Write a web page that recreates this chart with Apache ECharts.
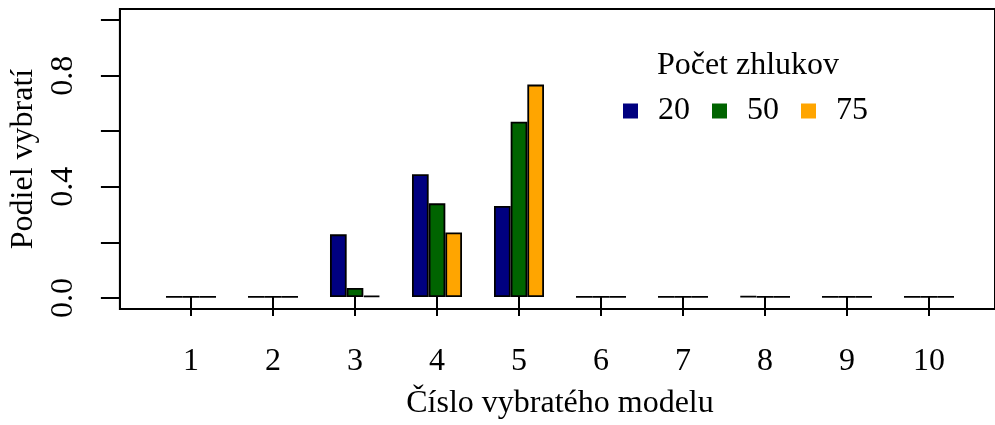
<!DOCTYPE html>
<html>
<head>
<meta charset="utf-8">
<script src="https://cdn.jsdelivr.net/npm/echarts@6/dist/echarts.min.js"></script>
<style>html,body{margin:0;padding:0;background:#fff;}#c{width:995px;height:425px;}</style>
</head>
<body>
<div id="c"></div>
<script>
var categories = ['1','2','3','4','5','6','7','8','9','10'];
var seriesNames = ['20','50','75'];
var values20 = [0, 0, 0.226, 0.443, 0.3285, 0, 0, 0.002, 0, 0];
var values50 = [0, 0, 0.0325, 0.338, 0.633, 0, 0, 0, 0, 0];
var values75 = [0, 0, 0.004, 0.2325, 0.767, 0, 0, 0, 0, 0];
var yTicks = [0, 0.2, 0.4, 0.6, 0.8, 1.0];
var yLabels = [0, 0.4, 0.8];
var colors = ['#000080', '#006400', '#FFA500'];

var FONT = '"Liberation Serif", "Times New Roman", serif';
var chart = echarts.init(document.getElementById('c'), null, {renderer: 'canvas'});
var allValues = [values20, values50, values75];
var series = seriesNames.map(function (n, i) {
  return {
    name: n, type: 'bar', xAxisIndex: 1, yAxisIndex: 1,
    data: allValues[i], barWidth: 16.67, barGap: '0%',
    itemStyle: {color: colors[i], borderColor: '#000', borderWidth: 1.8},
    emphasis: {disabled: true}, animation: false
  };
});
chart.setOption({
  animation: false,
  textStyle: {fontFamily: FONT, color: '#000'},
  title: {
    text: 'Počet zhlukov', left: 743, top: 45, textAlign: 'center',
    textStyle: {fontFamily: FONT, fontSize: 32, fontWeight: 'normal', color: '#000'}
  },
  legend: {
    data: seriesNames, left: 623, top: 95, padding: 0, icon: 'rect', itemWidth: 15, itemHeight: 15,
    itemGap: 22, selectedMode: false,
    itemStyle: {borderWidth: 0},
    textStyle: {fontFamily: FONT, fontSize: 32, color: '#000', padding: [0, 0, 0, 15]}
  },
  grid: [
    {left: 117, top: 9, right: -30, bottom: 116, show: true, borderColor: '#000', borderWidth: 2, backgroundColor: 'transparent'},
    {left: 150, top: 9, width: 820, bottom: 116}
  ],
  xAxis: [
    {gridIndex: 0, type: 'value', show: false, min: 0, max: 1},
    {gridIndex: 1, type: 'category', data: categories,
     axisLine: {show: false},
     axisTick: {show: true, alignWithLabel: true, length: 19, lineStyle: {color: '#000', width: 2}},
     axisLabel: {fontFamily: FONT, fontSize: 32, color: '#000', margin: 38},
     name: 'Číslo vybratého modelu', nameLocation: 'middle', nameGap: 80,
     nameTextStyle: {fontFamily: FONT, fontSize: 32, color: '#000'}}
  ],
  yAxis: [
    {gridIndex: 0, type: 'value', min: -0.04, max: 1.04,
     splitLine: {show: false},
     axisLine: {show: true, lineStyle: {color: '#000', width: 2}},
     axisTick: {show: true, length: 19, customValues: yTicks, lineStyle: {color: '#000', width: 2}},
     axisLabel: {rotate: 90, fontFamily: FONT, fontSize: 32, color: '#000', margin: 40,
       customValues: yLabels, formatter: function (v) { return v.toFixed(1); }},
     name: 'Podiel vybratí', nameLocation: 'middle', nameGap: 78, nameRotate: 90,
     nameTextStyle: {fontFamily: FONT, fontSize: 32, color: '#000'}},
    {gridIndex: 1, type: 'value', min: -0.04, max: 1.04, show: false, splitLine: {show: false}}
  ],
  series: series
});
</script>
</body>
</html>
